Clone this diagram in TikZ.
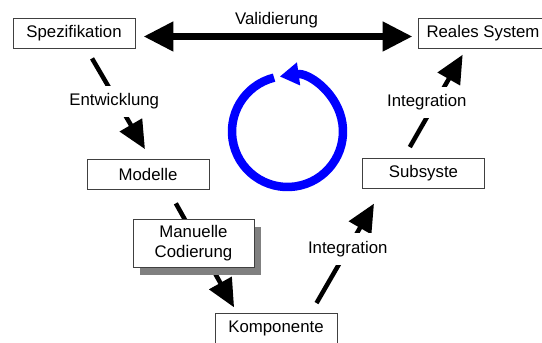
\documentclass[tikz,border=0pt]{standalone}
\usepackage{fontspec}
\setmainfont{Liberation Sans}
\usetikzlibrary{arrows.meta,shadows}

\begin{document}
\begin{tikzpicture}[
  x=1pt,y=1pt,
  every node/.style={font=\fontsize{16.8}{20}\selectfont},
  box/.style={draw=black!75,line width=0.8pt,fill=white,align=center,
    inner sep=0pt,minimum width=122pt,minimum height=30pt},
  shade/.style={drop shadow={shadow xshift=7pt,shadow yshift=-8pt,
    fill=black!50,opacity=1}},
  arr/.style={-{Triangle[length=28pt,width=25pt]},line width=4.5pt},
  bigarr/.style={{Triangle[length=30pt,width=28pt]}-{Triangle[length=30pt,width=28pt]},
    line width=7.5pt},
  lbl/.style={fill=white,inner xsep=1pt,inner ysep=8pt},
  cyc/.style={-{Triangle[length=19pt,width=22pt]},blue,line width=8.5pt}
]
\useasboundingbox (0,0) rectangle (542,343);

\node[box] (spez) at (74,309.5) {Spezifikation};
\node[box,minimum width=130pt] (real) at (483,309.5) {Reales System};
\node[box] (mod) at (148,169) {Modelle};
\node[box] (sub) at (423.5,169.5) {Subsyste};
\node[box] (komp) at (276,15) {Komponente};

% top: validation between spec and real system
\draw[bigarr,shorten <=8pt,shorten >=5pt]
  ([yshift=-3pt]spez.east) -- node[midway,yshift=16.5pt] {Validierung}
  ([yshift=-3pt]real.west);

% left branch down
\draw[arr,shorten <=11pt,shorten >=11pt]
  ([xshift=12.5pt]spez.south) -- node[lbl,pos=.48,xshift=-3pt] {Entwicklung}
  ([xshift=2.5pt]mod.north);
\draw[arr,shorten <=16pt,shorten >=6pt]
  ([xshift=20pt]mod.south) -- ([xshift=-39pt]komp.north);
\node[box,shade,minimum width=121pt,minimum height=48pt] (cod) at (193.5,100)
  {Manuelle\\Codierung};

% right branch up
\draw[arr,shorten <=11pt,shorten >=17pt]
  ([xshift=35pt]komp.north) -- node[lbl,pos=.514] {Integration}
  ([xshift=-41pt]sub.south);
\draw[arr,shorten <=12.7pt,shorten >=6.7pt]
  ([xshift=-20pt]sub.north) -- node[lbl,pos=.51,xshift=-8.5pt] {Integration}
  ([xshift=-17pt]real.south);

% cycle in the middle
\draw[cyc] (287.5,211.5) ++(104:55.5) arc[start angle=104,end angle=458,radius=55.5];
\end{tikzpicture}
\end{document}
